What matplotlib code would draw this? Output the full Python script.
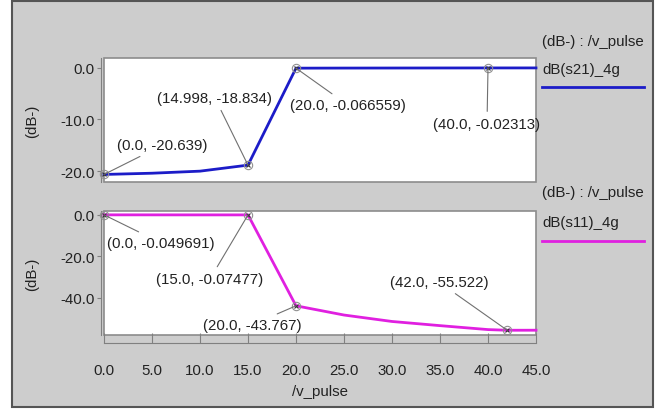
import matplotlib
matplotlib.use('Agg')
import matplotlib.pyplot as plt
from matplotlib.patches import Rectangle

plt.rcParams['font.family'] = ['Liberation Sans', 'DejaVu Sans']

# ---------------------------------------------------------
# Data
# ---------------------------------------------------------
s21_x = [0.0, 5.0, 10.0, 14.998, 20.0, 25.0, 30.0, 35.0, 40.0, 45.0]
s21_y = [-20.639, -20.4, -20.0, -18.834, -0.066559, -0.05, -0.04, -0.03, -0.02313, -0.02]

s11_x = [0.0, 5.0, 10.0, 15.0, 20.0, 25.0, 30.0, 35.0, 40.0, 42.0, 45.0]
s11_y = [-0.049691, -0.06, -0.07, -0.07477, -43.767, -48.2, -51.3, -53.3, -55.2, -55.522, -55.5]

# marked points: (x, y, text offset in pixels)
s21_marks = [(0.0, -20.639, (58, 29)),
             (14.998, -18.834, (-33, 67)),
             (20.0, -0.066559, (52, -37)),
             (40.0, -0.02313, (-1, -56))]
s11_marks = [(0.0, -0.049691, (57, -28)),
             (15.0, -0.07477, (-38, -64)),
             (20.0, -43.767, (-44, -19)),
             (42.0, -55.522, (-68, 48))]

x_ticks = [0, 5, 10, 15, 20, 25, 30, 35, 40, 45]
legend_head = '(dB-) : /v_pulse'
s21_name = 'dB(s21)_4g'
s11_name = 'dB(s11)_4g'

panel_color = '#cdcdcd'
blue = '#1c1cc8'
magenta = '#e020e0'
W, H = 663, 410
fs = 10.8

fig = plt.figure(figsize=(W / 100, H / 100), dpi=100, facecolor='white')

# outer grey panel
fig.patches.append(Rectangle((12 / W, 1 - 408 / H), 641 / W, 406 / H,
                             transform=fig.transFigure, facecolor=panel_color,
                             edgecolor='#555555', linewidth=1.5, zorder=-5))


def make_axes(bottom_px, top_px):
    ax = fig.add_axes([104 / W, 1 - bottom_px / H, 432 / W, (bottom_px - top_px) / H])
    ax.set_zorder(2)
    ax.set_facecolor('white')
    for s in ['top', 'right', 'bottom']:
        ax.spines[s].set_visible(False)
    ax.spines['left'].set_position(('outward', 2))
    ax.spines['left'].set_color('#808080')
    ax.add_patch(Rectangle((0, 0), 1, 1, transform=ax.transAxes, fill=False,
                           edgecolor='#8c8c8c', linewidth=1.2, clip_on=False, zorder=1))
    ax.tick_params(axis='y', length=3, color='#808080', labelsize=fs, labelcolor='#222222', pad=2)
    ax.set_xlim(0, 45)
    ax.set_ylabel('(dB-)', fontsize=fs, color='#222222', labelpad=15)
    return ax


def mark(ax, pts, clr):
    for x, y, off in pts:
        ax.plot(x, y, 'o', ms=6, mfc='none', mec='#909090', mew=0.8, zorder=4, clip_on=False)
        ax.plot(x, y, 'x', ms=3, color='#333333', mew=0.8, zorder=4, clip_on=False)
        ax.annotate('(%s, %s)' % (repr(x), repr(y)), xy=(x, y), xytext=off,
                    textcoords='offset pixels', ha='center', va='center', fontsize=fs,
                    color='#222222',
                    arrowprops=dict(arrowstyle='-', color='#707070', lw=0.8,
                                    shrinkA=2, shrinkB=0), zorder=5)


# top: s21
ax1 = make_axes(183, 59)
ax1.plot(s21_x, s21_y, color=blue, lw=2, zorder=3, clip_on=False)
ax1.set_ylim(-22.1, 1.9)
ax1.set_yticks([0, -10, -20])
ax1.set_yticklabels(['0.0', '-10.0', '-20.0'])
ax1.set_xticks([])
mark(ax1, s21_marks, blue)

# bottom: s11
ax2 = make_axes(336, 212)
ax2.plot(s11_x, s11_y, color=magenta, lw=2, zorder=3, clip_on=False)
ax2.set_ylim(-57.8, 1.8)
ax2.set_yticks([0, -20, -40])
ax2.set_yticklabels(['0.0', '-20.0', '-40.0'])
ax2.spines['bottom'].set_visible(True)
ax2.spines['bottom'].set_position(('outward', 6))
ax2.spines['bottom'].set_color('#808080')
ax2.set_xticks(x_ticks)
ax2.set_xticklabels(['%.1f' % t for t in x_ticks])
ax2.tick_params(axis='x', direction='in', length=7, color='#808080', labelsize=fs,
                labelcolor='#222222', pad=14)
ax2.set_xlabel('/v_pulse', fontsize=fs, color='#222222', labelpad=5)
mark(ax2, s11_marks, magenta)

# legends on the right
fig.text(542 / W, 1 - 42 / H, legend_head, fontsize=fs, va='center', color='#222222')
fig.text(542 / W, 1 - 70 / H, s21_name, fontsize=fs, va='center', color='#222222')
fig.add_artist(plt.Line2D([542 / W, 644 / W], [1 - 88 / H, 1 - 88 / H], color=blue, lw=2))
fig.text(542 / W, 1 - 193 / H, legend_head, fontsize=fs, va='center', color='#222222')
fig.text(542 / W, 1 - 223 / H, s11_name, fontsize=fs, va='center', color='#222222')
fig.add_artist(plt.Line2D([542 / W, 644 / W], [1 - 242 / H, 1 - 242 / H], color=magenta, lw=2))

plt.savefig('out.png', dpi=100)
plt.close()
